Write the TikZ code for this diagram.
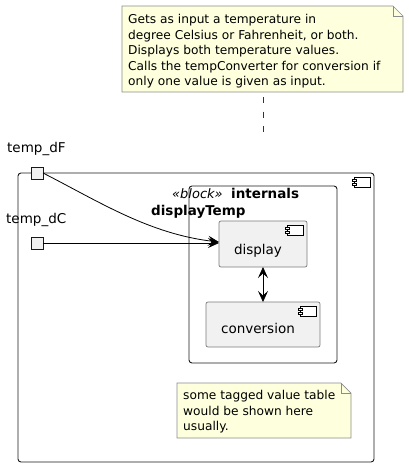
\documentclass[tikz,border=0pt]{standalone}
\usepackage{fontspec}
\setmainfont{DejaVu Sans}
\usetikzlibrary{arrows.meta,positioning}

\definecolor{noteyellow}{HTML}{FEFFDD}
\definecolor{notegray}{HTML}{8C8C8C}
\definecolor{compfill}{HTML}{F1F1F1}
\definecolor{compgray}{HTML}{7A7A7A}

\tikzset{
  notebox/.style={fill=noteyellow,draw=notegray,line width=0.7pt},
  notetext/.style={inner sep=0pt,align=left,font=\fontsize{12.2}{15.6}\selectfont},
  notelink/.style={draw=black!80,line width=0.7pt,dash pattern=on 6pt off 8.5pt},
  outerbox/.style={draw=black!90,line width=0.9pt,rounded corners=3pt,inner sep=0pt,outer sep=0pt},
  comp/.style={draw=compgray,fill=compfill,line width=0.7pt,rounded corners=2pt,inner sep=0pt,outer sep=0pt},
  compname/.style={inner sep=0pt,font=\fontsize{13.5}{16}\selectfont},
  portbox/.style={draw=black!90,fill=compfill,line width=0.8pt,minimum size=12pt,inner sep=0pt,outer sep=0pt},
  link/.style={line width=0.8pt,-{Stealth[length=11pt,width=10pt,inset=4.5pt]}},
  bilink/.style={line width=0.8pt,{Stealth[length=11pt,width=10pt,inset=4.5pt]}-{Stealth[length=11pt,width=10pt,inset=4.5pt]}},
  cicon/.pic={
    \draw[line width=0.6pt,fill=white] (-8,-5) rectangle (8,5);
    \draw[line width=0.6pt,fill=white] (-10,-3) rectangle (-6,-0.8);
    \draw[line width=0.6pt,fill=white] (-10,0.8) rectangle (-6,3);
  }
}

\begin{document}
\begin{tikzpicture}[x=1pt,y=-1pt]
\useasboundingbox (0,0) rectangle (409,467);

% note on top
\draw[notebox] (122,6) -- (393,6) -- (403,16) -- (403,92) -- (122,92) -- cycle;
\draw[notebox,fill=none] (393,6) -- (393,16) -- (403,16);
\node[notetext,anchor=north west] (topnote) at (128,14)
  {Gets as input a temperature in\\degree Celsius or Fahrenheit, or both.\\Displays both temperature values.\\Calls the tempConverter for conversion if\\only one value is given as input.};
\coordinate (notefoot) at (263,97);
\coordinate (noteend) at (263,132);
\draw[notelink] (notefoot) -- (noteend);

% outer component
\node[outerbox,anchor=north west,minimum width=356pt,minimum height=289pt] (tempdisp) at (18,173) {};
\pic at ([xshift=-12pt,yshift=-9.5pt]tempdisp.north east) {cicon};

% internals block
\node[outerbox,anchor=north west,minimum width=148pt,minimum height=177pt] (internals) at (189,186) {};
\node[compname,anchor=base west,font=\fontsize{13}{16}\selectfont\itshape] (stereo) at (172,198) {«block»};
\node[compname,anchor=base west,font=\fontsize{13.5}{16}\selectfont\bfseries] (intname) at (231,198) {internals};
\node[compname,anchor=base west,font=\fontsize{13.5}{16}\selectfont\bfseries] (blockname) at (151,215) {displayTemp};

% parts
\node[comp,anchor=north west,minimum width=88pt,minimum height=46pt] (disp) at (219,221) {};
\pic at ([xshift=-12pt,yshift=-9pt]disp.north east) {cicon};
\node[compname,anchor=base] (dispname) at ([xshift=-5pt,yshift=-10pt]disp.center) {display};

\node[comp,anchor=north west,minimum width=114pt,minimum height=45pt] (conv) at (206,302) {};
\pic at ([xshift=-12pt,yshift=-9.5pt]conv.north east) {cicon};
\node[compname,anchor=base] (convname) at ([xshift=-5pt,yshift=-9pt]conv.center) {conversion};

\draw[bilink] (disp.south) -- (conv.north);

% ports
\node[portbox] (portF) at (37,173) {};
\node[compname,anchor=base west] (portFname) at (7,152) {temp\_dF};
\node[portbox] (portC) at (37,243) {};
\node[compname,anchor=base west] (portCname) at (6,223) {temp\_dC};

\draw[link] (portF.east) .. controls +(55,28) and +(-70,-8) .. ([yshift=2pt]disp.west);
\draw[link] (portC.east) -- (portC.east -| disp.west);

% note at the bottom
\draw[notebox] (177,383) -- (341,383) -- (351,393) -- (351,438) -- (177,438) -- cycle;
\draw[notebox,fill=none] (341,383) -- (341,393) -- (351,393);
\node[notetext,anchor=north west] (tagnote) at (183,390)
  {some tagged value table\\would be shown here\\usually.};
\end{tikzpicture}
\end{document}
